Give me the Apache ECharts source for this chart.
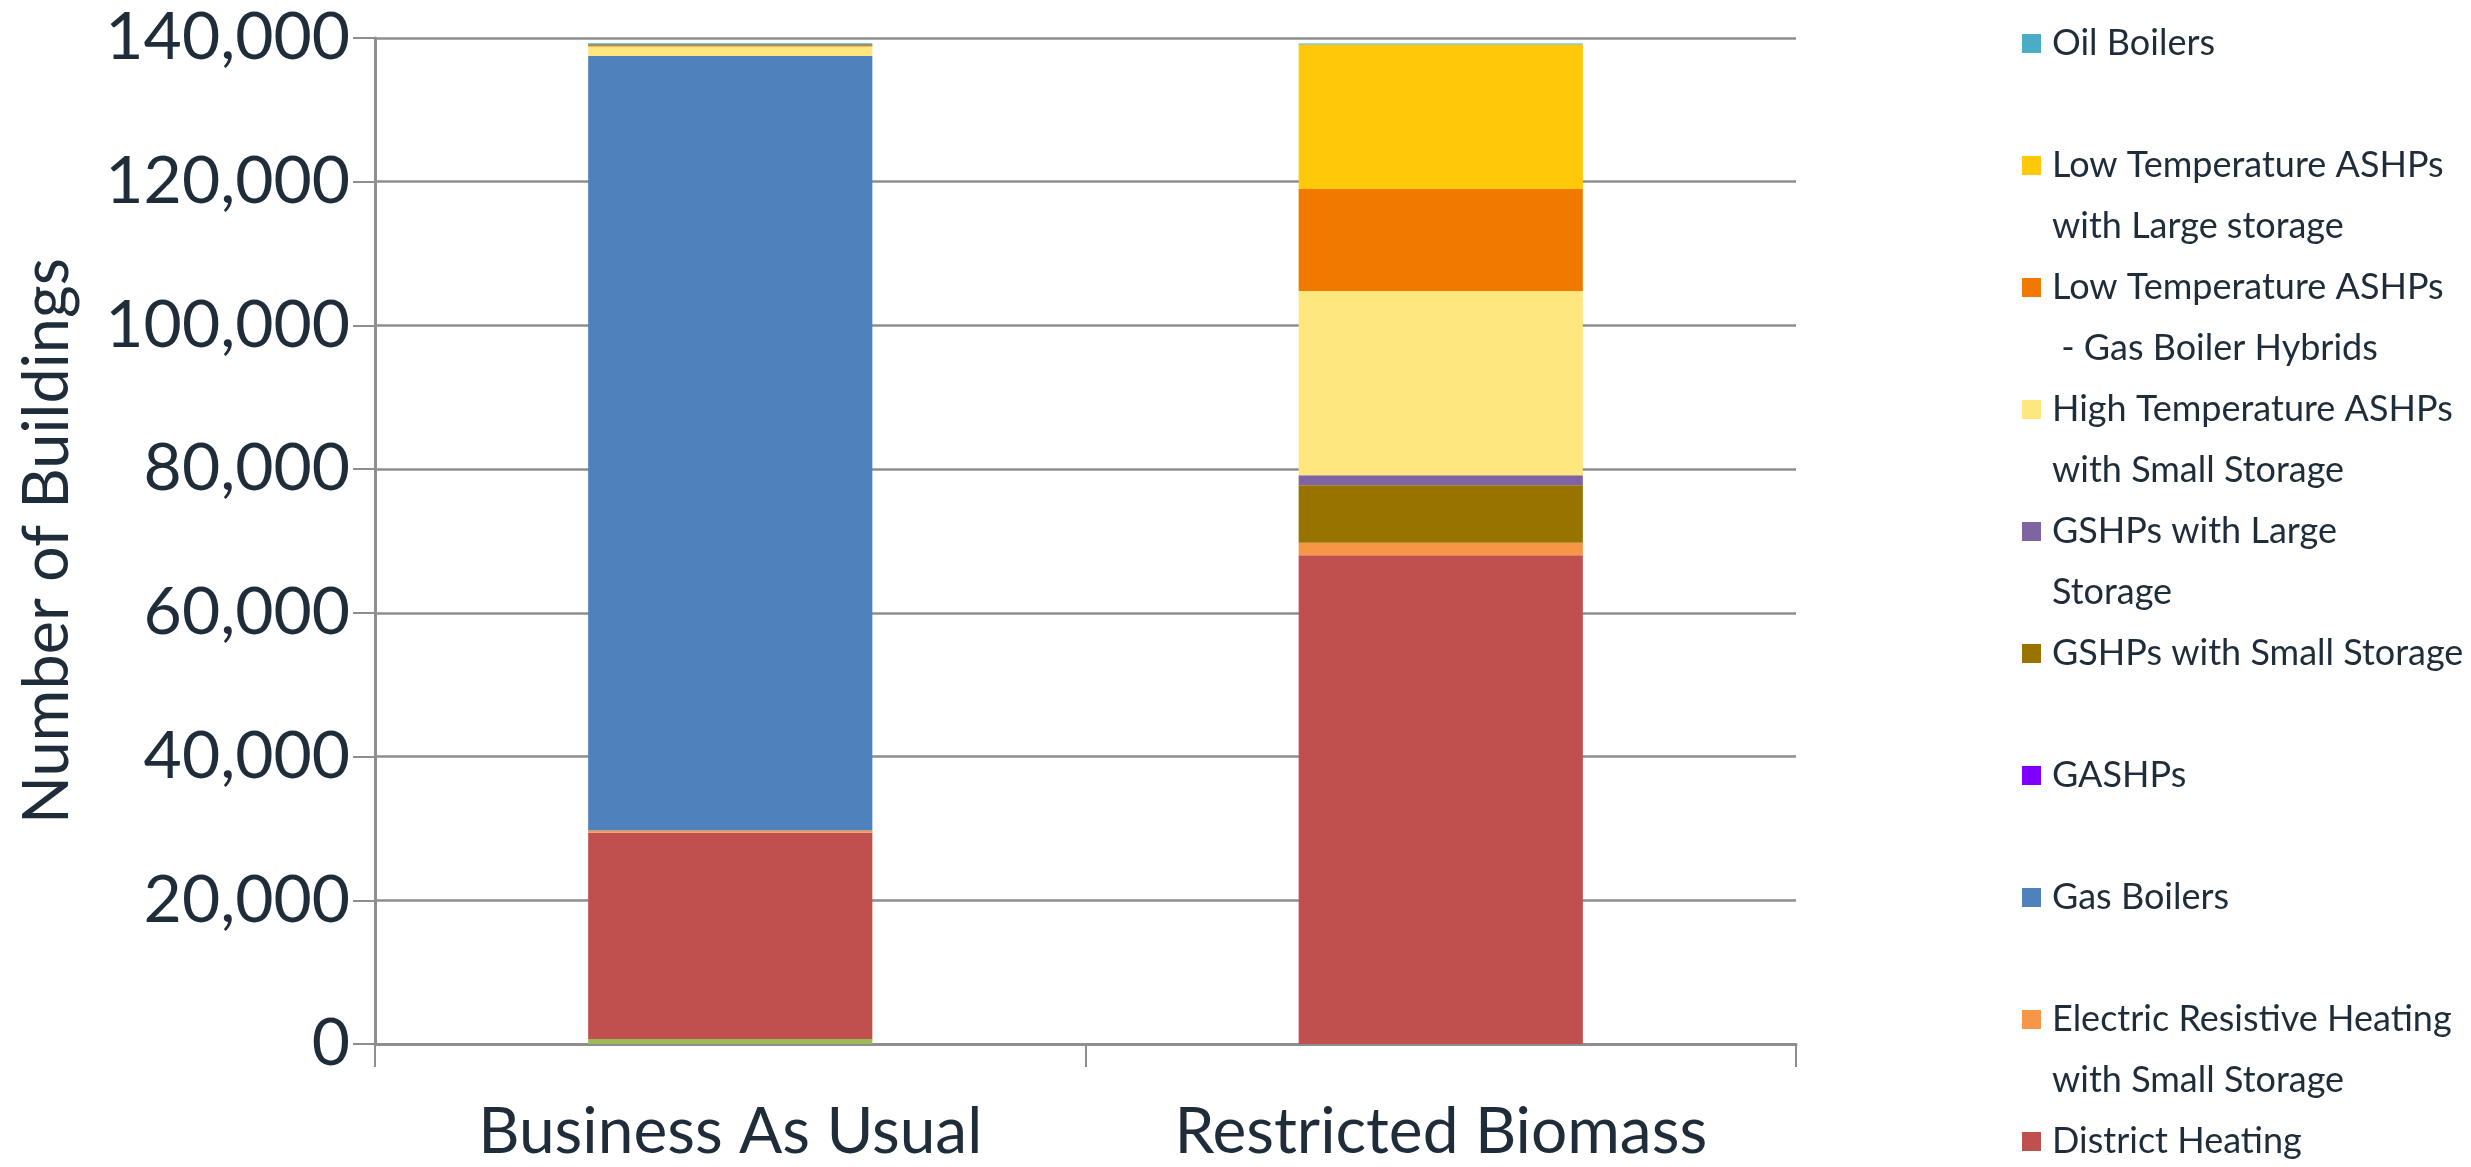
<!DOCTYPE html>
<html>
<head>
<meta charset="utf-8">
<title>Number of Buildings by Heating Technology</title>
<script src="https://cdn.jsdelivr.net/npm/echarts@6/dist/echarts.min.js"></script>
<style>
  html, body { margin: 0; padding: 0; background: #ffffff; }
  #chart { width: 2471px; height: 1167px; }
</style>
</head>
<body>
<div id="chart"></div>
<script>
// Scenarios on the x axis
const scenarios = ['Business As Usual', 'Restricted Biomass'];

// Buildings per heating technology, one value per scenario (stacked bottom to top)
const biomassBoilers        = [700, 0];
const districtHeating       = [28700, 68000];
const electricResistive     = [300, 1750];
const gasBoilers            = [107800, 0];
const gashps                = [0, 0];
const gshpsSmallStorage     = [0, 8000];
const gshpsLargeStorage     = [0, 1400];
const highTempAshpsSmall    = [1300, 25650];
const lowTempAshpsHybrid    = [230, 14200];
const lowTempAshpsLarge     = [0, 20100];
const oilBoilers            = [230, 150];

// Y axis range and step
const yMin = 0;
const yMax = 140000;
const yStep = 20000;

// Legend text, wrapped the way it is printed
const legendLines = {
  'Oil Boilers': ['Oil Boilers'],
  'Low Temperature ASHPs with Large storage': ['Low Temperature ASHPs', 'with Large storage'],
  'Low Temperature ASHPs - Gas Boiler Hybrids': ['Low Temperature ASHPs', ' - Gas Boiler Hybrids'],
  'High Temperature ASHPs with Small Storage': ['High Temperature ASHPs', 'with Small Storage'],
  'GSHPs with Large Storage': ['GSHPs with Large', 'Storage'],
  'GSHPs with Small Storage': ['GSHPs with Small Storage'],
  'GASHPs': ['GASHPs'],
  'Gas Boilers': ['Gas Boilers'],
  'Electric Resistive Heating with Small Storage': ['Electric Resistive Heating', 'with Small Storage'],
  'District Heating': ['District Heating']
};

const stack = [
  { name: 'Biomass Boilers', data: biomassBoilers, color: '#9BBB59' },
  { name: 'District Heating', data: districtHeating, color: '#C0504D' },
  { name: 'Electric Resistive Heating with Small Storage', data: electricResistive, color: '#F79646' },
  { name: 'Gas Boilers', data: gasBoilers, color: '#4F81BD' },
  { name: 'GASHPs', data: gashps, color: '#7F00FF' },
  { name: 'GSHPs with Small Storage', data: gshpsSmallStorage, color: '#997300' },
  { name: 'GSHPs with Large Storage', data: gshpsLargeStorage, color: '#8064A2' },
  { name: 'High Temperature ASHPs with Small Storage', data: highTempAshpsSmall, color: '#FFE780' },
  { name: 'Low Temperature ASHPs - Gas Boiler Hybrids', data: lowTempAshpsHybrid, color: '#F27900' },
  { name: 'Low Temperature ASHPs with Large storage', data: lowTempAshpsLarge, color: '#FFC808' },
  { name: 'Oil Boilers', data: oilBoilers, color: '#4BACC6' }
];

const textColor = '#1F2D3A';
const gridColor = '#8E8E8E';
const fontFamily = 'Lato, "Open Sans", sans-serif';

// legend runs top-down: the top of the stack first
const legendOrder = Object.keys(legendLines);

const chart = echarts.init(document.getElementById('chart'), null, { renderer: 'canvas' });

chart.setOption({
  animation: false,
  backgroundColor: '#ffffff',
  grid: { left: 375, right: 675, top: 38, bottom: 123, containLabel: false },
  legend: {
    orient: 'vertical',
    left: 2022,
    top: -48,
    height: 3000,
    padding: 0,
    itemGap: -61,
    itemWidth: 19,
    itemHeight: 19,
    icon: 'rect',
    selectedMode: false,
    data: legendOrder,
    formatter: function (name) {
      const lines = legendLines[name];
      // three rows per entry, icon sits on the first printed row
      const rows = ['\u00a0'].concat(lines);
      if (rows.length < 3) rows.push('\u00a0');
      return rows.join('\n');
    },
    textStyle: {
      color: textColor,
      fontFamily: fontFamily,
      fontSize: 36,
      lineHeight: 61,
      padding: [0, 0, 0, 6]
    }
  },
  xAxis: {
    type: 'category',
    data: scenarios,
    boundaryGap: true,
    axisLine: { show: true, lineStyle: { color: gridColor, width: 3 } },
    axisTick: { show: true, alignWithLabel: false, length: 23, lineStyle: { color: gridColor, width: 2 } },
    axisLabel: { color: textColor, fontFamily: fontFamily, fontSize: 64, margin: 56 },
    splitLine: { show: false }
  },
  yAxis: {
    type: 'value',
    min: yMin,
    max: yMax,
    interval: yStep,
    name: 'Number of Buildings',
    nameLocation: 'middle',
    nameGap: 296,
    nameTextStyle: { color: textColor, fontFamily: fontFamily, fontSize: 63 },
    axisLine: { show: true, lineStyle: { color: gridColor, width: 3 } },
    axisTick: { show: true, length: 22, lineStyle: { color: gridColor, width: 2 } },
    axisLabel: {
      color: textColor,
      fontFamily: fontFamily,
      fontSize: 66,
      margin: 25,
      formatter: function (v) { return v.toLocaleString('en-US'); }
    },
    splitLine: { show: true, lineStyle: { color: gridColor, width: 2.5 } }
  },
  series: stack.map(function (s) {
    return {
      name: s.name,
      type: 'bar',
      stack: 'buildings',
      barWidth: '40%',
      data: s.data,
      itemStyle: { color: s.color },
      emphasis: { disabled: true }
    };
  })
});
</script>
</body>
</html>
